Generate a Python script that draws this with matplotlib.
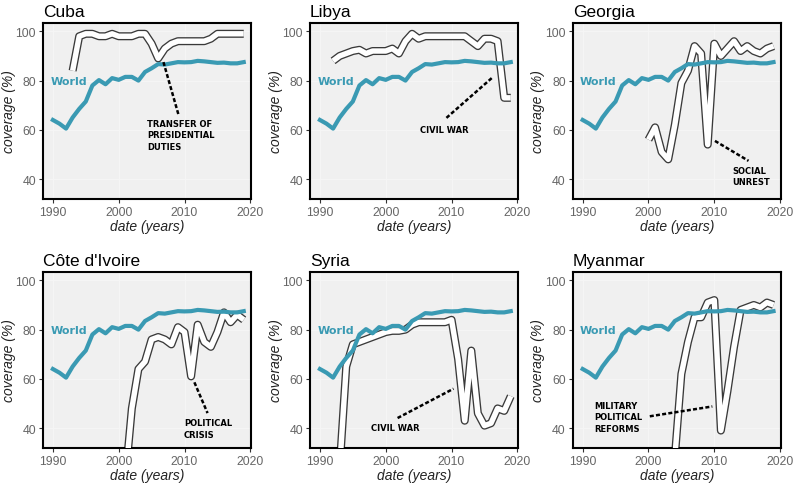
import numpy as np
import matplotlib.pyplot as plt

nan = np.nan
years = np.arange(1990, 2020)

world = [64, 62.5, 60.5, 65, 68.5, 71.5, 78, 80.2, 78.5, 81, 80.3, 81.5, 81.5, 80, 83.5,
         85, 86.7, 86.5, 87, 87.5, 87.4, 87.5, 88, 87.8, 87.5, 87.2, 87.3, 87, 87, 87.5]

cuba = [nan, nan, nan, 84, 98, 99, 99, 98, 98, 99, 98, 98, 98, 99, 99,
        95, 89, 93, 95, 96, 96, 96, 96, 96, 97, 99, 99, 99, 99, 99]
libya = [nan, nan, 88, 90, 91, 92, 92.5, 91, 92, 92, 92, 93, 91, 96, 99,
         97, 98, 98, 98, 98, 98, 98, 98, 96, 94, 97, 97, 96, 73, 73]
georgia = [nan] * 10 + [56, 61, 51, 48, 62, 79, 84, 94, 91, 54,
                        95, 90, 93, 96, 92, 94, 92, 91, 93, 94]
cote = [nan] * 11 + [19, 48, 64, 67, 76, 77, 76, 74, 81, 79,
                     61, 82, 75, 73, 79, 87, 83, 86, 84]
syria = [nan, nan, nan, 24, 65, 74, 75, 76, 77, 78, 79, 79.5, 79.5, 80, 82,
         83, 83, 83, 83, 83, 84, 68, 43, 71.5, 46, 41, 42, 48, 47, 53]
myanmar = [nan] * 14 + [28, 62, 75, 85, 85, 91, 92, 39, 55, 73,
                        88, 89, 90, 89, 91, 90]

countries = ["Cuba", "Libya", "Georgia", "Côte d'Ivoire", "Syria", "Myanmar"]
series = [cuba, libya, georgia, cote, syria, myanmar]
events = ["TRANSFER OF\nPRESIDENTIAL\nDUTIES", "CIVIL WAR", "SOCIAL\nUNREST",
          "POLITICAL\nCRISIS", "CIVIL WAR", "MILITARY\nPOLITICAL\nREFORMS"]

# annotation placement: dashed line (x0, y0, x1, y1), text anchor (x, y top)
arrows = [(2006.8, 87.5, 2009.1, 66), (2016.1, 81, 2009.2, 64.8), (2010.1, 55.5, 2015.2, 47.4),
          (2011.5, 58.6, 2013.5, 46.1), (2001.8, 44.1, 2010.3, 56), (2000.2, 44.8, 2009.7, 48.8)]
text_pos = [(2004.3, 64.5), (2005.2, 62), (2012.7, 45.5), (2009.9, 44), (1997.8, 42), (1991.7, 51)]

teal = "#3a9ab3"

fig = plt.figure(figsize=(7.95, 4.85), dpi=100)
lefts = [0.0541, 0.390, 0.7205]
bottoms = [0.5876, 0.0741]
w, h = 0.2616, 0.363

for i, name in enumerate(countries):
    ax = fig.add_axes([lefts[i % 3], bottoms[i // 3], w, h])
    ax.set_facecolor("#f0f0f0")
    ax.grid(True, color="#f6f6f6", lw=0.6)
    ax.set_axisbelow(True)

    ax.plot(years, series[i], color="#3a3a3a", lw=5.8, solid_joinstyle="round",
            solid_capstyle="butt", zorder=2)
    ax.plot(years, series[i], color="white", lw=3.9, solid_joinstyle="round",
            solid_capstyle="butt", zorder=3)
    ax.plot(years, world, color=teal, lw=3, zorder=4)

    ax.text(1989.6, 80, "World", color=teal, fontsize=8, fontweight="bold",
            family="DejaVu Sans", va="center", ha="left", zorder=5)

    x0, y0, x1, y1 = arrows[i]
    ax.plot([x0, x1], [y0, y1], color="black", lw=1.8, ls=(0, (1.6, 0.9)), zorder=5)
    tx, ty = text_pos[i]
    ax.text(tx, ty, events[i], fontsize=6, fontweight="bold", family="DejaVu Sans",
            va="top", ha="left", linespacing=1.35, zorder=5)

    ax.set_xlim(1988.5, 2020.1)
    ax.set_ylim(31.9, 103.4)
    ax.set_xticks([1990, 2000, 2010, 2020])
    ax.set_yticks([40, 60, 80, 100])
    ax.tick_params(labelsize=8.8, labelcolor="#666666", color="#333333", length=3,
                   width=0.8, pad=2)
    for lab in ax.get_xticklabels() + ax.get_yticklabels():
        lab.set_family("Liberation Sans")
    for s in ax.spines.values():
        s.set_linewidth(1.5)
        s.set_color("black")
    ax.set_xlabel("date (years)", fontsize=10, style="italic", family="Liberation Sans",
                  color="#222222", labelpad=0.5)
    ax.set_ylabel("coverage (%)", fontsize=10, style="italic", family="Liberation Sans",
                  color="#222222", labelpad=0)
    ax.set_title(name, loc="left", fontsize=12.5, family="Liberation Sans", pad=5)

fig.savefig("out.png", dpi=100)
